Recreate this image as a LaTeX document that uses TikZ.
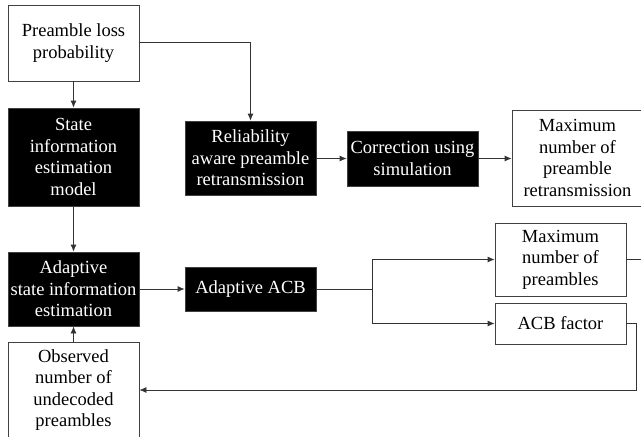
\documentclass[tikz,border=0pt]{standalone}
\usepackage{fontspec}
\setmainfont{Liberation Serif}
\usetikzlibrary{arrows.meta,positioning}

\tikzset{
  box/.style={draw=black!75, line width=0.8pt, align=center, inner sep=0pt,
    minimum width=131pt, font=\fontsize{18.5}{21.6}\selectfont},
  whitebox/.style={box, fill=white, text=black},
  blackbox/.style={box, fill=black, text=white},
  link/.style={draw=black!80, line width=0.8pt},
  flow/.style={link, -{Latex[length=7pt,width=6pt]}}
}

\begin{document}
\begin{tikzpicture}[x=1pt,y=-1pt]
  \useasboundingbox (0,0) rectangle (641,437);
  \clip (0,0) rectangle (641,437);
  \fill[white] (0,0) rectangle (641,437);

  % left column
  \node[whitebox, minimum height=76pt] (loss) at (73.5,43) {Preamble loss\\probability};
  \node[blackbox, minimum height=98pt] (state) at (73.5,157) {State\\information\\estimation\\model};
  \node[blackbox, minimum height=74pt] (adapt) at (73.5,289) {Adaptive\\state information\\estimation};
  \node[whitebox, minimum height=96pt] (obs) at (73.5,390) {Observed\\number of\\undecoded\\preambles};

  % retransmission branch
  \node[blackbox, minimum height=74pt] (rel) at (250.5,158) {Reliability\\aware preamble\\retransmission};
  \node[blackbox, minimum height=55pt] (corr) at (412.5,158.5) {Correction using\\simulation};
  \node[whitebox, minimum height=96pt] (maxre) at (577.5,158) {Maximum\\number of\\preamble\\retransmission};

  % access class barring branch
  \node[blackbox, minimum height=44pt] (acb) at (250.5,289) {Adaptive ACB};
  \node[whitebox, minimum height=73pt] (maxpre) at (560.5,259.5) {Maximum\\number of\\preambles};
  \node[whitebox, minimum height=41pt] (acbf) at (560.5,323.5) {ACB factor};

  \coordinate (split) at (372,289);
  \coordinate (outR) at (641,259.5);
  \coordinate (back) at (636,390);

  % connectors
  \draw[flow] (loss.south) -- (state.north);
  \draw[flow] (loss.east |- 0,42) -| (rel.north);
  \draw[flow] (rel.east |- corr.west) -- (corr.west);
  \draw[flow] (corr.east) -- (maxre.west |- corr.east);
  \draw[flow] (state.south) -- (adapt.north);
  \draw[flow] (adapt.east) -- (acb.west);
  \draw[link] (acb.east) -- (split);
  \draw[flow] (split) |- (maxpre.west);
  \draw[flow] (split) |- (acbf.west);
  \draw[link] (maxpre.east) -- (outR);
  \draw[flow] (acbf.east) -| (back) -- (obs.east |- back);
  \draw[flow] (obs.north) -- (adapt.south);
\end{tikzpicture}
\end{document}
